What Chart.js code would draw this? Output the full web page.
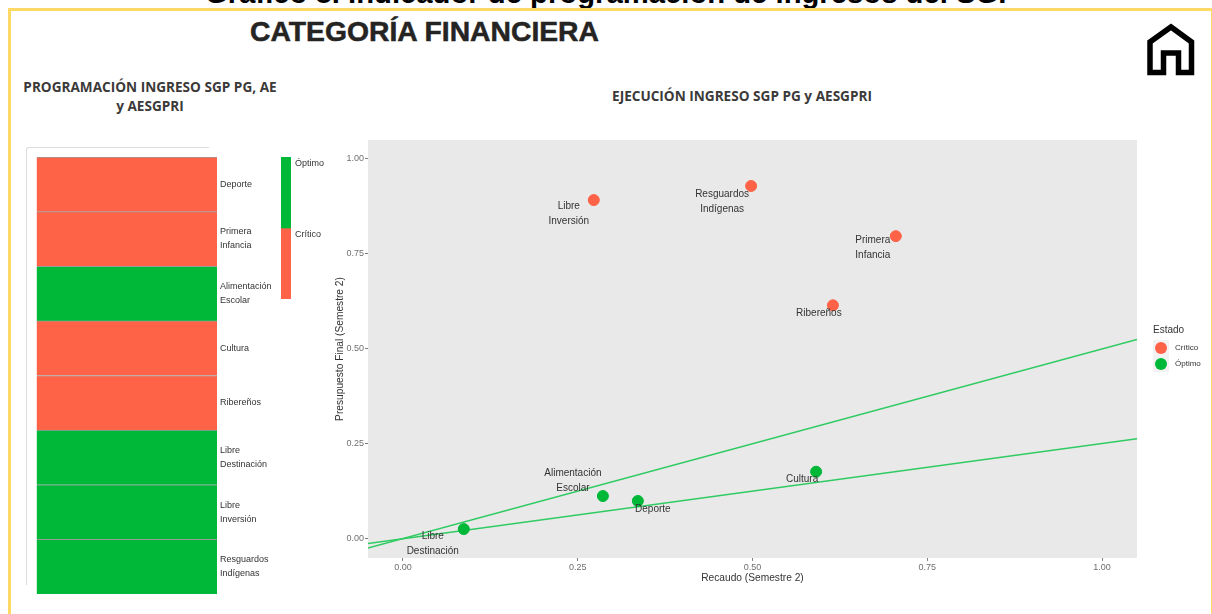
<!DOCTYPE html>
<html lang="es">
<head>
<meta charset="utf-8">
<title>Categoría financiera</title>
<script src="https://cdn.jsdelivr.net/npm/chart.js@4/dist/chart.umd.min.js"></script>
<style>
    html, body { margin: 0; padding: 0; background: #fff; overflow: hidden; }
    body { width: 1212px; height: 614px; position: relative; font-family: "Liberation Sans", Arial, sans-serif; }
    .abs { position: absolute; }
    .frame { left: 8px; top: 8px; width: 1200px; height: 620px; border: solid #ffd966; border-width: 3px 2px 3px 3px; }
    .top-title { left: 205px; top: -23px; font-size: 29.25px; font-weight: bold; color: #000; white-space: nowrap; }
    .main-title { left: 250px; top: 15px; font-size: 28.3px; font-weight: bold; color: #252423; white-space: nowrap; -webkit-text-stroke: 0.5px #252423; }
    .sub-title { font-family: "Open Sans", sans-serif; font-size: 13.6px; font-weight: 700; color: #3b3a39; text-align: center; line-height: 19px; }
    .card { left: 26px; top: 147px; width: 182px; height: 437px; border-left: 1px solid #ddd; border-top: 1px solid #ddd; border-radius: 3px 0 0 0; }
    canvas { position: absolute; }
</style>
</head>
<body>
<div class="abs top-title">Gráfico 8. Indicador de programación de ingresos del SGP</div>
<div class="abs frame"></div>
<div class="abs main-title">CATEGORÍA FINANCIERA</div>
<div class="abs sub-title" style="left:4px;top:76.5px;width:292px">PROGRAMACIÓN INGRESO SGP PG, AE<br>y AESGPRI</div>
<div class="abs sub-title" style="left:542px;top:85.5px;width:400px">EJECUCIÓN INGRESO SGP PG y AESGPRI</div>
<div class="abs card"></div>
<svg class="abs" style="left:1146px;top:22px" width="50" height="54" viewBox="0 0 50 54">
    <path d="M4 50.5V20L25 5L45.5 20V50.5H32.5V31H17.5V50.5Z" fill="none" stroke="#000" stroke-width="5.5"/>
</svg>
<canvas id="heat-chart" style="left:30px;top:150px;width:260px;height:450px" width="260" height="450"></canvas>
<canvas id="strip-chart" style="left:275px;top:150px;width:70px;height:156px" width="70" height="156"></canvas>
<canvas id="scatter-chart" style="left:330px;top:130px;width:880px;height:470px" width="880" height="470"></canvas>

<script>
// --- Data ---
const categories = [
    ['Deporte'], ['Primera', 'Infancia'], ['Alimentación', 'Escolar'], ['Cultura'],
    ['Ribereños'], ['Libre', 'Destinación'], ['Libre', 'Inversión'], ['Resguardos', 'Indígenas']
];
const programStatus = ['Crítico', 'Crítico', 'Óptimo', 'Crítico', 'Crítico', 'Óptimo', 'Óptimo', 'Óptimo'];
const programValues = [1, 1, 1, 1, 1, 1, 1, 1];

const stripLabels = ['Óptimo', 'Crítico'];
const stripValues = [1, 1];

const criticoNames = [['Libre', 'Inversión'], ['Resguardos', 'Indígenas'], ['Primera', 'Infancia'], ['Ribereños']];
const criticoX = [0.273, 0.498, 0.705, 0.615];
const criticoY = [0.892, 0.929, 0.797, 0.615];

const optimoNames = [['Libre', 'Destinación'], ['Alimentación', 'Escolar'], ['Deporte'], ['Cultura']];
const optimoX = [0.087, 0.286, 0.336, 0.591];
const optimoY = [0.026, 0.113, 0.100, 0.177];

const trendX = [-0.05, 1.05];
const trendSteep = [-0.024, 0.525];
const trendFlat = [-0.012, 0.264];

const axisTicks = [0, 0.25, 0.5, 0.75, 1];

const RED = '#ff6347';
const GREEN = '#00b838';
const LINE_GREEN = '#2fcb62';
const toPoints = (xs, ys) => xs.map((x, i) => ({ x, y: ys[i] }));
const statusColor = (s) => (s === 'Crítico' ? RED : GREEN);

// label offset from its point, in pixels, same order as the name arrays
const criticoOffsets = [[-25, 6], [-29, 8], [-23, 4], [-14, 8]];
const optimoOffsets = [[-31, 7], [-30, -23], [15, 8.5], [-14, 8]];

// --- Left panel ---
new Chart(document.getElementById('heat-chart'), {
    type: 'bar',
    data: {
        labels: categories,
        datasets: [{
            data: programValues,
            backgroundColor: programStatus.map(statusColor),
            borderColor: '#9a9a9a',
            borderWidth: { top: 1, bottom: 0, left: 0, right: 0 },
            barPercentage: 1,
            categoryPercentage: 1
        }]
    },
    options: {
        indexAxis: 'y',
        responsive: false,
        animation: false,
        layout: { padding: { left: 6.5, top: 7, bottom: 6 } },
        plugins: { legend: { display: false }, tooltip: { enabled: false } },
        scales: {
            x: { display: false, min: 0, max: 1 },
            y: {
                position: 'right',
                afterFit: (axis) => {
                    axis.width = 73;
                    // two line labels should not push the rows inwards
                    axis.paddingTop = 0;
                    axis.paddingBottom = 0;
                },
                grid: { display: false, drawTicks: false, tickLength: 0 },
                border: { display: false },
                ticks: { color: '#333', font: { family: 'Liberation Sans', size: 9, lineHeight: 1.55 }, padding: 3, autoSkip: false, align: 'center', crossAlign: 'near' }
            }
        }
    }
});

// --- Colour strip next to it ---
const stripTextPlugin = {
    id: 'stripText',
    afterDatasetsDraw(chart) {
        const { ctx } = chart;
        ctx.save();
        ctx.fillStyle = '#333';
        ctx.font = '9px "Liberation Sans"';
        ctx.textBaseline = 'middle';
        chart.data.datasets.forEach((ds, i) => {
            const bar = chart.getDatasetMeta(i).data[0];
            ctx.fillText(ds.label, bar.x + 9, Math.min(bar.base, bar.y) + 7);
        });
        ctx.restore();
    }
};

new Chart(document.getElementById('strip-chart'), {
    type: 'bar',
    data: {
        labels: [''],
        datasets: stripLabels.map((label, i) => ({
            label,
            data: [stripValues[i]],
            backgroundColor: statusColor(label),
            barPercentage: 1,
            categoryPercentage: 1
        }))
    },
    options: {
        responsive: false,
        animation: false,
        layout: { padding: { left: 6, right: 54, top: 7, bottom: 7 } },
        plugins: { legend: { display: false }, tooltip: { enabled: false } },
        scales: {
            x: { display: false, stacked: true },
            y: { display: false, stacked: true, reverse: true, min: 0, max: 2 }
        }
    },
    plugins: [stripTextPlugin]
});

// --- Scatter panel ---
const pointLabelsPlugin = {
    id: 'pointLabels',
    afterDatasetsDraw(chart) {
        const { ctx } = chart;
        ctx.save();
        ctx.fillStyle = '#333';
        ctx.font = '10px "Liberation Sans"';
        ctx.textAlign = 'center';
        ctx.textBaseline = 'middle';
        chart.data.datasets.forEach((ds, i) => {
            if (!ds.names) return;
            chart.getDatasetMeta(i).data.forEach((pt, j) => {
                const [dx, dy] = ds.offsets[j];
                ds.names[j].forEach((line, k) => ctx.fillText(line, pt.x + dx, pt.y + dy + k * 15));
            });
        });
        ctx.restore();
    }
};

const panelBackground = {
    id: 'panelBackground',
    beforeDraw(chart) {
        const { ctx, chartArea: a } = chart;
        ctx.fillStyle = '#e9e9e9';
        ctx.fillRect(a.left, a.top, a.right - a.left, a.bottom - a.top);
    }
};

// ggplot style legend to the right of the panel
const estadoLegend = {
    id: 'estadoLegend',
    afterDraw(chart) {
        const { ctx, chartArea: a } = chart;
        const left = a.right + 16;
        const top = a.top + 190;
        ctx.save();
        ctx.fillStyle = '#f2f2f2';
        ctx.fillRect(left, top + 10, 16, 32);
        ctx.textBaseline = 'middle';
        ctx.fillStyle = '#333';
        ctx.font = '10px "Liberation Sans"';
        ctx.fillText('Estado', left, top);
        chart.data.datasets.filter((ds) => ds.names).forEach((ds, i) => {
            const y = top + 18 + i * 16;
            ctx.beginPath();
            ctx.arc(left + 8, y, 6, 0, Math.PI * 2);
            ctx.fillStyle = ds.backgroundColor;
            ctx.fill();
            ctx.fillStyle = '#333';
            ctx.font = '8px "Liberation Sans"';
            ctx.fillText(ds.label, left + 22, y);
        });
        ctx.restore();
    }
};

const axisTitle = (text, padding) => ({ display: true, text, color: '#333', font: { family: 'Liberation Sans', size: 10.2 }, padding });
const tickStyle = {
    color: '#6f6f6f',
    font: { family: 'Liberation Sans', size: 9 },
    padding: 1,
    callback: (v) => v.toFixed(2)
};
const tickGrid = { drawOnChartArea: false, tickLength: 3, tickColor: '#7f7f7f' };
const useAxisTicks = (axis) => { axis.ticks = axisTicks.map((value) => ({ value })); };

new Chart(document.getElementById('scatter-chart'), {
    type: 'scatter',
    data: {
        datasets: [
            { label: 'Tendencia 1', data: toPoints(trendX, trendSteep), showLine: true, borderColor: LINE_GREEN, borderWidth: 1.5, pointRadius: 0, order: 3 },
            { label: 'Tendencia 2', data: toPoints(trendX, trendFlat), showLine: true, borderColor: LINE_GREEN, borderWidth: 1.5, pointRadius: 0, order: 3 },
            { label: 'Crítico', names: criticoNames, offsets: criticoOffsets, data: toPoints(criticoX, criticoY), backgroundColor: RED, borderColor: RED, pointRadius: 5.5, order: 1 },
            { label: 'Óptimo', names: optimoNames, offsets: optimoOffsets, data: toPoints(optimoX, optimoY), backgroundColor: GREEN, borderColor: GREEN, pointRadius: 5.5, order: 1 }
        ]
    },
    options: {
        responsive: false,
        animation: false,
        layout: { padding: { right: 73, top: 10, bottom: 16 } },
        plugins: {
            tooltip: { enabled: false },
            legend: { display: false }
        },
        scales: {
            x: {
                type: 'linear', min: -0.05, max: 1.05,
                afterBuildTicks: useAxisTicks,
                title: axisTitle('Recaudo (Semestre 2)', { top: -2, bottom: 0 }),
                grid: tickGrid,
                border: { display: false },
                ticks: tickStyle
            },
            y: {
                type: 'linear', min: -0.05, max: 1.05,
                afterBuildTicks: useAxisTicks,
                afterFit: (axis) => { axis.width = 38; },
                title: axisTitle('Presupuesto Final (Semestre 2)', { top: 4, bottom: 0 }),
                grid: tickGrid,
                border: { display: false },
                ticks: tickStyle
            }
        }
    },
    plugins: [panelBackground, pointLabelsPlugin, estadoLegend]
});
</script>
</body>
</html>
